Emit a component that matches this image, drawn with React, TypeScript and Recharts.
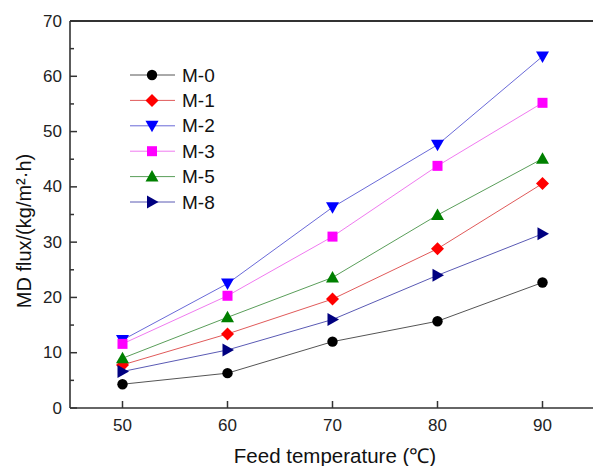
import React from "react";
import {
  LineChart,
  Line,
  XAxis,
  YAxis,
  Legend,
  ReferenceLine,
} from "recharts";

// feed temperature (°C)
const temps = [50, 60, 70, 80, 90];
// MD flux, kg/(m2·h)
const m0 = [4.3, 6.3, 12.0, 15.7, 22.7];
const m1 = [7.8, 13.4, 19.7, 28.8, 40.6];
const m2 = [12.3, 22.5, 36.3, 47.6, 63.6];
const m3 = [11.6, 20.3, 31.0, 43.8, 55.2];
const m5 = [9.0, 16.4, 23.6, 34.9, 45.1];
const m8 = [6.6, 10.5, 16.0, 24.0, 31.5];

const xTicks = [50, 60, 70, 80, 90];
const yTicks = [0, 5, 10, 15, 20, 25, 30, 35, 40, 45, 50, 55, 60, 65, 70];

const series = [
  { key: "m0", name: "M-0", values: m0, color: "#000000", line: "#555555", shape: "circle" },
  { key: "m1", name: "M-1", values: m1, color: "#ff0000", line: "#e05a5a", shape: "diamond" },
  { key: "m2", name: "M-2", values: m2, color: "#0000ff", line: "#6a6ad8", shape: "down" },
  { key: "m3", name: "M-3", values: m3, color: "#ff00ff", line: "#f07af0", shape: "square" },
  { key: "m5", name: "M-5", values: m5, color: "#008000", line: "#5a9e5a", shape: "up" },
  { key: "m8", name: "M-8", values: m8, color: "#000080", line: "#5a5ab4", shape: "right" },
];

const data = temps.map((t, i) => {
  const row: any = { t };
  series.forEach((s) => {
    row[s.key] = s.values[i];
  });
  return row;
});

const FONT = '"Liberation Sans", Arial, sans-serif';
const AXIS = "#333333";

const Marker = ({ cx, cy, shape, color }: any) => {
  switch (shape) {
    case "circle":
      return <circle cx={cx} cy={cy} r={5.2} fill={color} />;
    case "diamond":
      return (
        <polygon
          points={`${cx},${cy - 6.5} ${cx + 6.5},${cy} ${cx},${cy + 6.5} ${cx - 6.5},${cy}`}
          fill={color}
        />
      );
    case "down":
      return (
        <polygon
          points={`${cx - 6.5},${cy - 5} ${cx + 6.5},${cy - 5} ${cx},${cy + 6.5}`}
          fill={color}
        />
      );
    case "square":
      return <rect x={cx - 5} y={cy - 5} width={10} height={10} fill={color} />;
    case "up":
      return (
        <polygon
          points={`${cx - 6.5},${cy + 5} ${cx + 6.5},${cy + 5} ${cx},${cy - 6.5}`}
          fill={color}
        />
      );
    default:
      return (
        <polygon
          points={`${cx - 5},${cy - 6.5} ${cx - 5},${cy + 6.5} ${cx + 6.5},${cy}`}
          fill={color}
        />
      );
  }
};

const YTick = (props: any) => {
  const { x, y, payload } = props;
  const ax = x + 8;
  const major = payload.value % 10 === 0;
  return (
    <g>
      <line x1={ax} x2={ax + (major ? 7 : 4)} y1={y} y2={y} stroke={AXIS} strokeWidth={1.5} />
      {major && (
        <text
          x={ax - 8}
          y={y}
          textAnchor="end"
          dominantBaseline="central"
          fontSize={17}
          fontFamily={FONT}
          fill="#222"
        >
          {payload.value}
        </text>
      )}
    </g>
  );
};

const XTick = (props: any) => {
  const { x, y, payload } = props;
  const ay = y - 10;
  return (
    <g>
      <line x1={x} x2={x} y1={ay} y2={ay - 7} stroke={AXIS} strokeWidth={1.5} />
      <text
        x={x}
        y={ay + 17}
        textAnchor="middle"
        dominantBaseline="central"
        fontSize={17}
        fontFamily={FONT}
        fill="#222"
      >
        {payload.value}
      </text>
    </g>
  );
};

const CustomLegend = () => {
  return (
    <svg width={110} height={160} style={{ display: "block" }}>
      {series.map((s, i) => {
        const y = 14 + i * 25.4;
        return (
          <g key={s.key}>
            <line x1={8} x2={53} y1={y} y2={y} stroke={s.line} strokeWidth={1} />
            <Marker cx={30} cy={y} shape={s.shape} color={s.color} />
            <text
              x={60}
              y={y}
              dominantBaseline="central"
              fontSize={19}
              fontFamily={FONT}
              fill="#111"
            >
              {s.name}
            </text>
          </g>
        );
      })}
    </svg>
  );
};

const App = () => {
  return (
    <div
      style={{
        position: "absolute",
        left: 0,
        top: 0,
        width: 593,
        height: 466,
        overflow: "hidden",
        background: "#fff",
      }}
    >
      <LineChart
        width={600}
        height={466}
        data={data}
        margin={{ top: 21, right: 5, left: 0, bottom: 0 }}
      >
        <XAxis
          dataKey="t"
          type="number"
          domain={[45, 95]}
          ticks={xTicks}
          height={58}
          tickSize={0}
          tickMargin={10}
          tickLine={false}
          tick={<XTick />}
          axisLine={{ stroke: AXIS, strokeWidth: 1.6 }}
          label={{
            content: () => (
              <text
                x={335}
                y={455}
                textAnchor="middle"
                dominantBaseline="central"
                fontSize={20.5}
                fontFamily={FONT}
                fill="#111"
              >
                Feed temperature (℃)
              </text>
            ),
          }}
        />
        <YAxis
          type="number"
          domain={[0, 70]}
          ticks={yTicks}
          interval={0}
          width={70}
          tickSize={0}
          tickMargin={8}
          tickLine={false}
          tick={<YTick />}
          axisLine={{ stroke: AXIS, strokeWidth: 1.6 }}
          label={{
            content: () => (
              <text
                x={24}
                y={231}
                transform="rotate(-90, 24, 231)"
                textAnchor="middle"
                dominantBaseline="central"
                fontSize={20}
                fontFamily={FONT}
                fill="#111"
              >
                MD flux/(kg/m²·h)
              </text>
            ),
          }}
        />
        <ReferenceLine y={70} stroke={AXIS} strokeWidth={1.8} />
        <Legend
          layout="vertical"
          align="center"
          verticalAlign="middle"
          content={<CustomLegend />}
          wrapperStyle={{ position: "absolute", left: 122, top: 61, width: 110 }}
        />
        {series.map((s) => (
          <Line
            key={s.key}
            dataKey={s.key}
            name={s.name}
            stroke={s.line}
            strokeWidth={1}
            isAnimationActive={false}
            dot={(p: any) => (
              <Marker
                key={`${s.key}-${p.index}`}
                cx={p.cx}
                cy={p.cy}
                shape={s.shape}
                color={s.color}
              />
            )}
            activeDot={false}
          />
        ))}
      </LineChart>
    </div>
  );
};

export default App;
